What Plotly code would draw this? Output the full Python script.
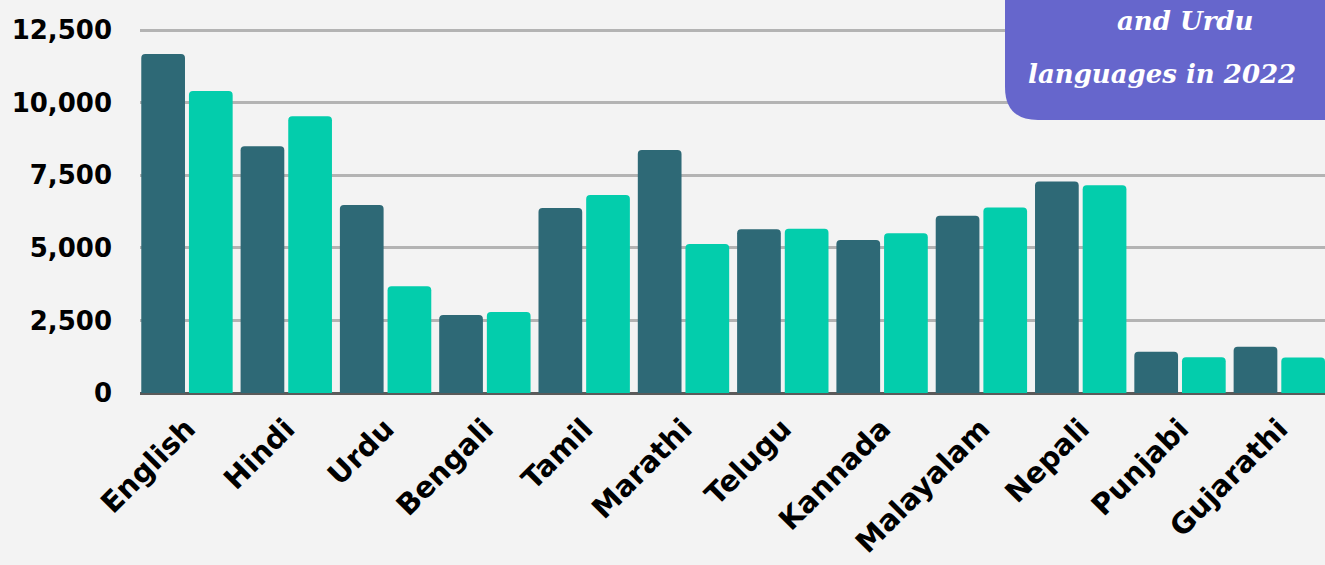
import plotly.graph_objects as go

categories = ["English", "Hindi", "Urdu", "Bengali", "Tamil", "Marathi", "Telugu",
              "Kannada", "Malayalam", "Nepali", "Punjabi", "Gujarathi"]
series_a = [11670, 8500, 6470, 2690, 6370, 8370, 5640, 5270, 6100, 7280, 1420, 1590]
series_b = [10400, 9530, 3680, 2790, 6820, 5130, 5660, 5500, 6390, 7150, 1230, 1220]
y_ticks = [0, 2500, 5000, 7500, 10000, 12500]
y_ticktext = ["0", "2,500", "5,000", "7,500", "10,000", "12,500"]
box_lines = ["and Urdu", "languages in 2022"]

W, H = 1325, 565
L, R, T, B = 140, 0, 0, 172
pw, ph = W - L - R, H - T - B

def px(x):
    return (x - L) / pw

def py(y):
    return (H - B - y) / ph

fig = go.Figure()
fig.add_trace(go.Bar(x=categories, y=series_a, marker=dict(color="#2e6976", line=dict(width=0))))
fig.add_trace(go.Bar(x=categories, y=series_b, marker=dict(color="#03cdac", line=dict(width=0))))

# purple box with rounded bottom-left corner
x0, y0, r = 1005, 120, 33
path = (f"M {px(x0)},{py(-20)} L {px(x0)},{py(y0 - r)} "
        f"Q {px(x0)},{py(y0)} {px(x0 + r)},{py(y0)} "
        f"L {px(W + 20)},{py(y0)} L {px(W + 20)},{py(-20)} Z")
fig.add_shape(type="path", path=path, xref="paper", yref="paper",
              fillcolor="#6666cc", line=dict(width=0), layer="above")

box_font = dict(family="DejaVu Serif", size=26, color="white", style="italic", weight="bold")
fig.add_annotation(text=box_lines[0], xref="paper", yref="paper", x=px(1185), y=py(21),
                   xanchor="center", yanchor="middle", showarrow=False, font=box_font)
fig.add_annotation(text=box_lines[1], xref="paper", yref="paper", x=px(1026), y=py(74),
                   xanchor="left", yanchor="middle", showarrow=False, font=box_font)

tick_font = dict(family="DejaVu Sans", size=26, color="#000000", weight="bold")

fig.update_layout(
    width=W, height=H,
    margin=dict(l=L, r=R, t=T, b=B, pad=0),
    paper_bgcolor="#f3f3f3", plot_bgcolor="#f3f3f3",
    showlegend=False,
    barmode="group", bargap=0.04, bargroupgap=0.083,
    barcornerradius=4,
    xaxis=dict(range=[-0.473, 11.46], tickangle=-45, showgrid=False,
               tickfont=dict(tick_font, size=29),
               ticks="", showline=False, ticklabelstandoff=12),
    yaxis=dict(range=[0, 13533], tickvals=y_ticks, ticktext=y_ticktext,
               tickfont=tick_font,
               showgrid=True, gridcolor="#b3b3b3", gridwidth=3,
               zeroline=True, zerolinecolor="#5a5a5a", zerolinewidth=3,
               ticks="", ticklabelstandoff=27),
)

fig.write_html("out.html", config={"displayModeBar": False},
               post_script="document.body.style.margin='0';")
